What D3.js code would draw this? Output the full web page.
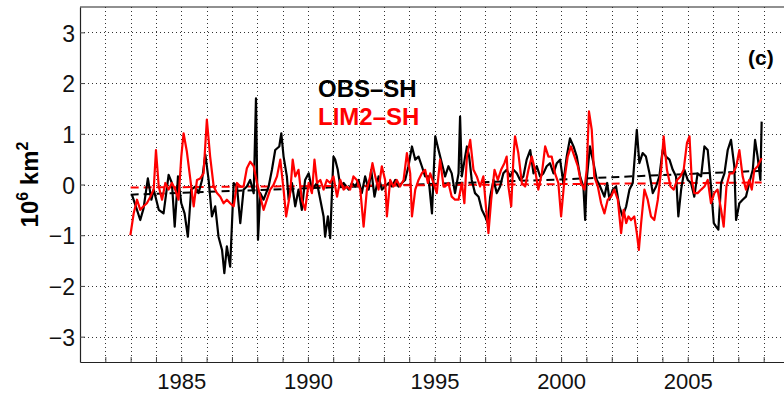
<!DOCTYPE html>
<html>
<head>
<meta charset="utf-8">
<script src="https://cdn.jsdelivr.net/npm/d3@7"></script>
<style>
  body { margin: 0; background: #fff; }
  svg { display: block; font-family: "Liberation Sans", Arial, Helvetica, sans-serif; }
</style>
</head>
<body>
<div id="chart"></div>
<script>
// Axis ticks and labels
const yTicks = [-3, -2, -1, 0, 1, 2, 3];
const xGridYears = [1982, 1983, 1984, 1985, 1986, 1987, 1988, 1989, 1990, 1991, 1992, 1993, 1994,
  1995, 1996, 1997, 1998, 1999, 2000, 2001, 2002, 2003, 2004, 2005, 2006, 2007, 2008];
const xLabelYears = [1985, 1990, 1995, 2000, 2005];
const seriesNames = ["OBS\u2013SH", "LIM2\u2013SH"];

// Observed anomalies [year, 10^6 km^2]
const obsSH = [
  [1983.05, -0.2], [1983.25, -0.5], [1983.38, -0.7], [1983.51, -0.47], [1983.68, 0.12], [1983.82, -0.3],
  [1983.91, -0.1], [1984.11, -0.5], [1984.3, -0.57], [1984.5, 0.19], [1984.63, 0.03], [1984.74, -0.83],
  [1984.87, 0.16], [1985.0, -0.37], [1985.13, -0.57], [1985.26, -1.03], [1985.39, -0.1], [1985.55, -0.04],
  [1985.68, -0.17], [1985.82, 0.09], [1985.95, 0.59], [1986.08, 0.09], [1986.21, -0.63], [1986.34, -0.43],
  [1986.47, -1.03], [1986.61, -1.29], [1986.7, -1.75], [1986.8, -1.22], [1986.93, -1.62], [1987.07, 0.03],
  [1987.2, -0.04], [1987.33, -0.76], [1987.46, -0.1], [1987.59, -0.04], [1987.72, 0.09], [1987.86, -0.17],
  [1987.95, 1.7], [1988.03, -1.09], [1988.12, -0.17], [1988.25, -0.3], [1988.45, -0.04], [1988.58, 0.29],
  [1988.71, 0.68], [1988.87, 0.75], [1988.95, 1.01], [1989.04, 0.55], [1989.17, 0.16],
  [1989.24, -0.3], [1989.37, 0.03], [1989.5, -0.43], [1989.63, -0.1], [1989.76, -0.5], [1989.89, 0.09],
  [1990.03, 0.22], [1990.16, -0.1], [1990.36, 0.03], [1990.49, -0.3], [1990.62, -0.63], [1990.68, -1.03],
  [1990.79, -0.63], [1990.88, -1.06], [1990.95, -0.17], [1991.01, 0.55], [1991.08, 0.49], [1991.18, 0.29],
  [1991.28, -0.04], [1991.41, 0.03], [1991.61, -0.1], [1991.74, 0.03], [1991.87, -0.04], [1992.0, 0.09],
  [1992.13, -0.17], [1992.26, 0.16], [1992.4, -0.1], [1992.5, 0.29], [1992.63, -0.24], [1992.79, 0.16],
  [1992.92, -0.1], [1993.05, -0.04], [1993.19, 0.03], [1993.32, -0.04], [1993.45, 0.09], [1993.58, -0.04],
  [1993.71, 0.03], [1993.84, 0.09], [1993.97, 0.36], [1994.11, 0.75], [1994.24, 0.49], [1994.37, 0.55],
  [1994.5, 0.36], [1994.63, 0.16], [1994.76, 0.16], [1994.9, -0.57], [1995.03, 0.95], [1995.16, 0.68],
  [1995.29, 0.42],
  [1995.42, 0.16], [1995.55, 0.36], [1995.68, 0.22], [1995.81, -0.17], [1995.95, 0.22], [1996.01, 1.34],
  [1996.08, 0.16], [1996.21, 0.55], [1996.28, 0.75], [1996.37, 0.55], [1996.47, 0.09], [1996.6, -0.17],
  [1996.74, -0.24], [1996.87, -0.5], [1997.0, -0.63], [1997.1, -0.76], [1997.2, -0.24], [1997.33, 0.09],
  [1997.46, -0.17], [1997.59, -0.04], [1997.72, 0.22], [1997.85, 0.29], [1997.99, 0.16], [1998.12, 0.29],
  [1998.25, 0.22], [1998.38, 0.09], [1998.51, 0.16], [1998.64, 0.49], [1998.78, 0.68], [1998.91, 0.22],
  [1999.04, 0.36], [1999.17, 0.16], [1999.3, 0.22], [1999.43, 0.36], [1999.56, 0.42], [1999.7, 0.22],
  [1999.83, 0.42], [1999.96, 0.49], [2000.09, 0.03], [2000.22, 0.55], [2000.35, 0.91], [2000.49, 0.75],
  [2000.62, 0.55], [2000.75, 0.16], [2000.88, -0.04], [2000.95, -0.7], [2001.01, 0.09], [2001.14, 0.75],
  [2001.28, 0.42], [2001.41, 0.09], [2001.54, -0.04],
  [2001.71, -0.24], [2001.82, 0.03], [2001.91, -0.3], [2002.04, -0.1], [2002.17, -0.04], [2002.3, -0.43],
  [2002.43, -0.63], [2002.57, -0.43], [2002.7, -0.1], [2002.83, 0.03], [2002.99, 1.08], [2003.09, 0.42],
  [2003.22, 0.62], [2003.35, 0.55], [2003.49, 0.22], [2003.62, -0.17], [2003.75, -0.04], [2003.88, 0.16],
  [2004.01, 0.68], [2004.14, 0.55], [2004.28, 0.49], [2004.41, 0.29], [2004.54, 0.16], [2004.63, -0.63],
  [2004.74, -0.1], [2004.87, 0.29], [2005.0, 0.09], [2005.13, 0.03], [2005.26, -0.24], [2005.39, 0.22],
  [2005.53, 0.16], [2005.66, 0.75], [2005.79, 0.68], [2005.92, -0.04], [2006.03, -0.76], [2006.12, -0.83],
  [2006.21, -0.89], [2006.32, 0.03], [2006.45, 0.22], [2006.58, 0.68], [2006.71, 0.88], [2006.84, 0.36],
  [2006.91, -0.7], [2007.04, -0.37], [2007.17, -0.3], [2007.3, -0.24], [2007.43, 0.03], [2007.57, 0.29],
  [2007.66, 0.88], [2007.76, 0.55], [2007.87, 0.09], [2007.92, 1.24]
];

// Model (LIM2) anomalies [year, 10^6 km^2]
const lim2SH = [
  [1982.99, -1.0], [1983.12, -0.57], [1983.25, -0.3], [1983.38, -0.5], [1983.51, -0.43], [1983.64, -0.37],
  [1983.78, -0.24], [1983.91, -0.1], [1984.0, 0.68], [1984.11, -0.04], [1984.24, -0.3], [1984.37, 0.03],
  [1984.5, -0.1], [1984.63, 0.03], [1984.76, -0.1], [1984.89, -0.3], [1985.0, 0.55], [1985.09, 1.01],
  [1985.22, 0.65], [1985.36, 0.09], [1985.49, -0.43], [1985.62, 0.09], [1985.75, 0.12], [1985.88, 0.22],
  [1986.01, 1.28], [1986.14, 0.55], [1986.28, -0.04], [1986.41, -0.17], [1986.54, -0.24], [1986.67, -0.37],
  [1986.8, -0.3], [1986.93, -0.37], [1987.07, -0.43], [1987.2, 0.03], [1987.33, -0.04], [1987.46, -0.04],
  [1987.59, 0.32], [1987.72, 0.45], [1987.86, 0.36], [1987.99, 0.03], [1988.12, -0.24], [1988.25, -0.5],
  [1988.38, -0.3], [1988.51, -0.1], [1988.64, -0.01], [1988.78, 0.16], [1988.91, 0.49], [1989.04, -0.1],
  [1989.14, -0.63],
  [1989.3, -0.17], [1989.4, 0.49], [1989.5, 0.16], [1989.63, 0.29], [1989.76, -0.3], [1989.89, -0.5],
  [1990.03, 0.03], [1990.16, -0.17], [1990.26, 0.49], [1990.36, 0.03], [1990.49, 0.09], [1990.62, -0.1],
  [1990.75, 0.09], [1990.88, 0.03], [1991.01, 0.16], [1991.15, -0.24], [1991.28, 0.09], [1991.41, -0.1],
  [1991.54, -0.04], [1991.67, -0.1], [1991.8, 0.16], [1991.93, 0.09], [1992.07, -0.1], [1992.2, -0.83],
  [1992.33, -0.1], [1992.46, 0.16], [1992.55, 0.42], [1992.66, 0.16], [1992.79, -0.1], [1992.92, 0.36],
  [1993.05, 0.09], [1993.12, -0.63], [1993.25, 0.09], [1993.38, -0.04], [1993.51, 0.09], [1993.64, -0.04],
  [1993.78, 0.09], [1993.91, 0.62], [1994.04, 0.22], [1994.11, -0.63], [1994.24, -0.1], [1994.37, 0.09],
  [1994.5, 0.22], [1994.63, 0.29], [1994.74, 0.03], [1994.83, 0.22], [1994.96, 0.03], [1995.09, -0.17],
  [1995.22, 0.49], [1995.36, -0.04],
  [1995.42, -0.04], [1995.55, 0.03], [1995.68, -0.24], [1995.81, -0.3], [1995.95, -0.3], [1996.08, 0.03],
  [1996.18, -0.37], [1996.28, 0.55], [1996.41, 0.88], [1996.54, 0.29], [1996.67, 0.16], [1996.8, -0.04],
  [1996.93, 0.16], [1997.03, -0.43], [1997.13, -0.96], [1997.24, -0.3], [1997.37, 0.29], [1997.5, 0.09],
  [1997.63, 0.29], [1997.76, 0.42], [1997.85, 0.55], [1997.92, -0.04], [1998.03, -0.43], [1998.12, 0.55],
  [1998.18, 0.95], [1998.31, 0.62], [1998.45, 0.03], [1998.58, -0.04], [1998.71, 0.29], [1998.84, 0.55],
  [1998.97, 0.29], [1999.1, -0.1], [1999.24, 0.22], [1999.37, 0.75], [1999.5, 0.55], [1999.63, 0.55],
  [1999.76, 0.22], [1999.89, 0.03], [2000.0, -0.63], [2000.13, 0.09], [2000.26, 0.55], [2000.39, 0.75],
  [2000.53, 0.55], [2000.66, 0.36], [2000.79, 0.03], [2000.92, -0.1], [2001.01, 0.29], [2001.1, 1.44],
  [2001.21, 1.08], [2001.31, 0.16], [2001.45, -0.04], [2001.58, -0.37],
  [2001.71, -0.57], [2001.84, -0.3], [2001.97, -0.24], [2002.1, -0.1], [2002.24, -0.3], [2002.37, -0.96],
  [2002.47, -0.5], [2002.57, -0.76], [2002.66, -0.63], [2002.76, -0.7], [2002.89, -0.63], [2002.99, -0.96],
  [2003.07, -1.29], [2003.16, -0.76], [2003.29, -0.1], [2003.42, -0.3], [2003.55, -0.63], [2003.68, -0.7],
  [2003.82, -0.3], [2003.95, 0.29], [2004.05, 0.95], [2004.18, 0.29], [2004.32, -0.04], [2004.45, -0.1],
  [2004.58, 0.09], [2004.71, 0.16], [2004.84, 0.29], [2004.97, 0.82], [2005.07, 0.95], [2005.16, 0.09],
  [2005.26, -0.17], [2005.39, -0.17], [2005.53, -0.1], [2005.66, -0.04], [2005.79, 0.09], [2005.92, -0.37],
  [2006.05, -0.17], [2006.18, -0.1], [2006.32, -0.5], [2006.42, -0.83], [2006.53, -0.04], [2006.66, 0.22],
  [2006.79, 0.22], [2006.92, 0.36], [2007.04, 0.68], [2007.17, 0.16], [2007.3, -0.1], [2007.43, 0.09],
  [2007.53, -0.1], [2007.63, 0.29], [2007.76, 0.36], [2007.92, 0.52]
];

// Dashed trend lines
const obsTrend = [[1983.0, -0.2], [1990.8, -0.06], [2000.0, 0.1], [2007.92, 0.27]];
const limTrend = [[1983.0, -0.06], [2007.92, 0.04]];

// Dimensions
const width = 784;
const height = 394;
const margin = { top: 7, right: -5, bottom: 32, left: 80 };

const svg = d3.select("#chart")
    .append("svg")
    .attr("width", width)
    .attr("height", height);

svg.append("rect").attr("width", width).attr("height", height).attr("fill", "#fff");

// Scales
const xScale = d3.scaleLinear()
    .domain([1981, 2009])
    .range([margin.left, width - margin.right]);

const yScale = d3.scaleLinear()
    .domain([-3.5, 3.5])
    .range([height - margin.bottom, margin.top]);

const plotTop = yScale(3.5), plotBottom = yScale(-3.5);
const plotLeft = xScale(1981), plotRight = xScale(2009);

// Grid (dotted, MATLAB style)
const grid = svg.append("g").attr("stroke", "#333").attr("stroke-width", 1).attr("stroke-dasharray", "1,3");
grid.selectAll(".vg")
    .data(xGridYears)
    .enter()
    .append("line")
    .attr("x1", (d) => Math.round(xScale(d)) + 0.5)
    .attr("x2", (d) => Math.round(xScale(d)) + 0.5)
    .attr("y1", plotTop)
    .attr("y2", plotBottom);
grid.selectAll(".hg")
    .data(yTicks)
    .enter()
    .append("line")
    .attr("x1", plotLeft)
    .attr("x2", plotRight)
    .attr("y1", (d) => Math.round(yScale(d)) + 0.5)
    .attr("y2", (d) => Math.round(yScale(d)) + 0.5);

// Axes with inward ticks
const xAxis = d3.axisBottom(xScale)
    .tickValues(xGridYears)
    .tickSizeInner(-5)
    .tickSizeOuter(0)
    .tickPadding(11)
    .tickFormat((d) => (xLabelYears.includes(d) ? d : ""));

const yAxis = d3.axisLeft(yScale)
    .tickValues(yTicks)
    .tickSizeInner(-5)
    .tickSizeOuter(0)
    .tickPadding(5)
    .tickFormat((d) => (d < 0 ? "\u2212" + Math.abs(d) : d));

const gx = svg.append("g")
    .attr("transform", `translate(0, ${plotBottom})`)
    .call(xAxis);
gx.selectAll("text")
    .attr("font-size", 22)
    .attr("font-family", "Liberation Sans, Arial, sans-serif")
    .attr("fill", "#111")
    .attr("dy", "0.72em");

const gy = svg.append("g")
    .attr("transform", `translate(${plotLeft}, 0)`)
    .call(yAxis);
gy.selectAll("text")
    .attr("font-size", 23)
    .attr("font-family", "Liberation Sans, Arial, sans-serif")
    .attr("fill", "#111")
    .attr("dy", "0.38em");

svg.selectAll(".domain").attr("stroke", "#222").attr("stroke-width", 1.2);
svg.selectAll(".tick line").attr("stroke", "#444");

// Top border
svg.append("line")
    .attr("x1", plotLeft).attr("x2", plotRight)
    .attr("y1", plotTop).attr("y2", plotTop)
    .attr("stroke", "#222").attr("stroke-width", 1.2);

// Lines
const line = d3.line()
    .x((d) => xScale(d[0]))
    .y((d) => yScale(d[1]));

svg.append("path")
    .datum(obsTrend)
    .attr("d", line)
    .attr("fill", "none")
    .attr("stroke", "#000")
    .attr("stroke-width", 2)
    .attr("stroke-dasharray", "8,5");

svg.append("path")
    .datum(limTrend)
    .attr("d", line)
    .attr("fill", "none")
    .attr("stroke", "#ff0000")
    .attr("stroke-width", 2)
    .attr("stroke-dasharray", "8,5");

svg.append("path")
    .datum(obsSH)
    .attr("d", line)
    .attr("fill", "none")
    .attr("stroke", "#000")
    .attr("stroke-width", 2.2)
    .attr("stroke-linejoin", "round");

svg.append("path")
    .datum(lim2SH)
    .attr("d", line)
    .attr("fill", "none")
    .attr("stroke", "#ff0000")
    .attr("stroke-width", 2.2)
    .attr("stroke-linejoin", "round");

// Legend labels
svg.append("text")
    .attr("x", 318).attr("y", 97)
    .attr("font-size", 24).attr("font-weight", "bold")
    .attr("fill", "#000")
    .text(seriesNames[0]);

svg.append("text")
    .attr("x", 318).attr("y", 125)
    .attr("font-size", 24).attr("font-weight", "bold")
    .attr("fill", "#ff0000")
    .text(seriesNames[1]);

// Panel label
svg.append("text")
    .attr("x", 748).attr("y", 65)
    .attr("font-size", 21).attr("font-weight", "bold")
    .attr("fill", "#000")
    .text("(c)");

// Y-axis label
const ylab = svg.append("text")
    .attr("transform", `translate(38, ${(plotTop + plotBottom) / 2}) rotate(-90)`)
    .attr("text-anchor", "middle")
    .attr("font-size", 24)
    .attr("font-weight", "bold")
    .attr("fill", "#000");
ylab.append("tspan").text("10");
ylab.append("tspan").attr("font-size", 16).attr("dy", -10).text("6");
ylab.append("tspan").attr("dy", 10).text(" km");
ylab.append("tspan").attr("font-size", 16).attr("dy", -10).text("2");
</script>
</body>
</html>
